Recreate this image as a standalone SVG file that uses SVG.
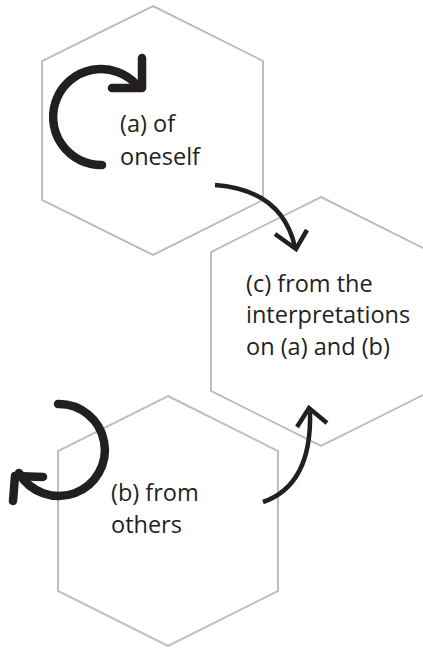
<svg xmlns="http://www.w3.org/2000/svg" width="423" height="648" viewBox="0 0 423 648">
<style>
.hex{fill:none;stroke:#bcbdc0;stroke-width:2}
.lbl{font-family:"Open Sans","Noto Sans",sans-serif;font-size:23.5px;fill:#231f20}
.thick{fill:none;stroke:#231f20;stroke-width:8.5;stroke-linecap:round;stroke-linejoin:round}
.thin{fill:none;stroke:#231f20;stroke-width:4.5;stroke-linecap:butt;stroke-linejoin:miter}
</style>
<rect width="423" height="648" fill="#ffffff"/>
<g id="node-a">
<polygon class="hex" points="153,6 263,61 263,200 153,255 42,200 42,61"/>
<text class="lbl" x="120" y="132">(a) of</text>
<text class="lbl" x="120" y="165">oneself</text>
</g>
<g id="node-c">
<polygon class="hex" points="321,197 431,252 431,391 321,446 211,391 211,252"/>
<text class="lbl" x="246" y="292">(c) from the</text>
<text class="lbl" x="246" y="323">interpretations</text>
<text class="lbl" x="246" y="355">on (a) and (b)</text>
</g>
<g id="node-b">
<polygon class="hex" points="168,396 278,451 278,591 168,646 58,591 58,451"/>
<text class="lbl" x="111" y="501">(b) from</text>
<text class="lbl" x="111" y="533">others</text>
</g>
<g id="connectors">
<path class="thick" d="M102,165 A48,48 0 1 1 136,84"/>
<path class="thick" d="M142,58 L142,88 L112,88"/>
<path class="thin" d="M215,185 Q282,190 295,247"/>
<path class="thin" d="M275,234 L296,249 L307,230"/>
<path class="thick" d="M58,404 A46,46 0 1 1 19,473"/>
<path class="thick" d="M13,501 L15,476 L43,477"/>
<path class="thin" d="M263,502 Q312,485 310,412"/>
<path class="thin" d="M297,427 L309,408 L327,423"/>
</g>
</svg>
